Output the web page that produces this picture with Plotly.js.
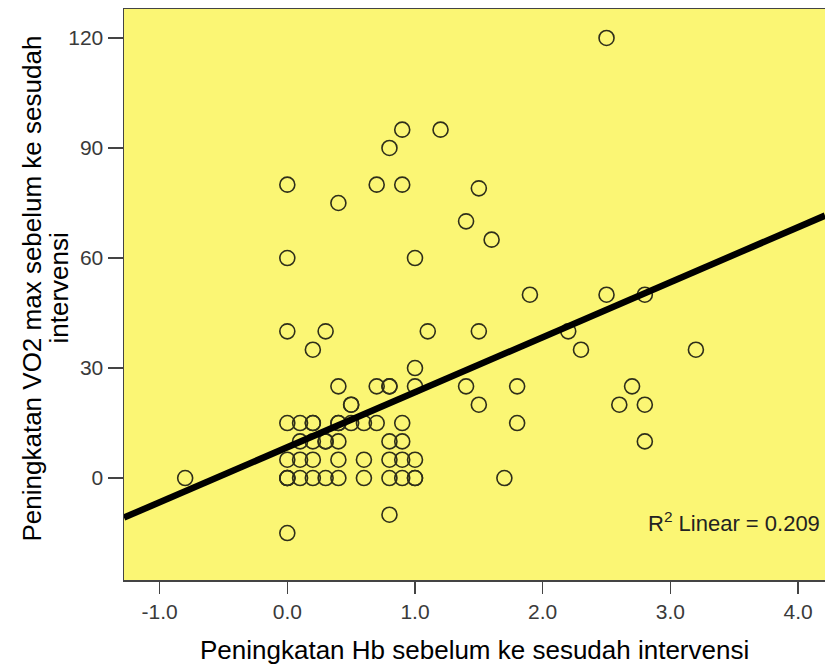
<!DOCTYPE html>
<html>
<head>
<meta charset="utf-8">
<script src="https://cdn.plot.ly/plotly-3.0.1.min.js"></script>
<style>
  html, body { margin: 0; padding: 0; background: #ffffff; }
  #chart { width: 825px; height: 667px; }
</style>
</head>
<body>
<div id="chart"></div>
<script>
// Peningkatan Hb (x) vs Peningkatan VO2 max (y)
const hbIncrease = [
  2.5,
  0.9, 1.2,
  0.8,
  0.0, 0.7, 0.9,
  1.5,
  0.4,
  1.4,
  1.6,
  0.0, 1.0,
  1.9, 2.5, 2.8,
  0.0, 0.3, 1.1, 1.5, 2.2,
  0.2, 2.3, 3.2,
  1.0,
  0.4, 0.7, 0.8, 0.8, 1.0, 1.4, 1.8, 2.7,
  0.5, 0.5, 1.5, 2.6, 2.8,
  0.0, 0.1, 0.2, 0.2, 0.4, 0.4, 0.5, 0.6, 0.7, 0.9, 1.8,
  0.1, 0.2, 0.3, 0.3, 0.4, 0.8, 0.9, 2.8,
  0.0, 0.1, 0.2, 0.4, 0.6, 0.8, 0.9, 1.0,
  -0.8, 0.0, 0.0, 0.0, 0.1, 0.2, 0.3, 0.4, 0.6, 0.8, 0.9, 1.0, 1.0, 1.7,
  0.8,
  0.0
];
const vo2Increase = [
  120,
  95, 95,
  90,
  80, 80, 80,
  79,
  75,
  70,
  65,
  60, 60,
  50, 50, 50,
  40, 40, 40, 40, 40,
  35, 35, 35,
  30,
  25, 25, 25, 25, 25, 25, 25, 25,
  20, 20, 20, 20, 20,
  15, 15, 15, 15, 15, 15, 15, 15, 15, 15, 15,
  10, 10, 10, 10, 10, 10, 10, 10,
  5, 5, 5, 5, 5, 5, 5, 5,
  0, 0, 0, 0, 0, 0, 0, 0, 0, 0, 0, 0, 0, 0,
  -10,
  -15
];

// Linear fit shown in the reference (R² Linear = 0.209)
const fitIntercept = 8.4;
const fitSlope = 15.0;
const rSquared = 0.209;

const xTickValues = [-1, 0, 1, 2, 3, 4];
const xTickLabels = ['-1.0', '0.0', '1.0', '2.0', '3.0', '4.0'];
const yTickValues = [0, 30, 60, 90, 120];
const yTickLabels = ['0', '30', '60', '90', '120'];

const xTitle = 'Peningkatan Hb sebelum ke sesudah intervensi';
const yTitleLine1 = 'Peningkatan VO2 max sebelum ke sesudah';
const yTitleLine2 = 'intervensi';

const xRange = [-1.279, 4.211];
const yRange = [-27.8, 127.9];

const fitX = xRange.slice();
const fitY = fitX.map(v => fitIntercept + fitSlope * v);

const FONT = 'Liberation Sans, Arial, sans-serif';

const traces = [
  {
    type: 'scatter',
    mode: 'markers',
    x: hbIncrease,
    y: vo2Increase,
    marker: {
      symbol: 'circle-open',
      size: 15,
      color: '#2e2e1a',
      line: { width: 1.6, color: '#2e2e1a' }
    },
    hoverinfo: 'x+y',
    showlegend: false,
    cliponaxis: true
  },
  {
    type: 'scatter',
    mode: 'lines',
    x: fitX,
    y: fitY,
    line: { color: '#000000', width: 6.5 },
    hoverinfo: 'skip',
    showlegend: false
  }
];

const layout = {
  width: 825,
  height: 667,
  margin: { l: 124, r: 0, t: 9, b: 87, pad: 0 },
  paper_bgcolor: '#ffffff',
  plot_bgcolor: '#FBF674',
  font: { family: FONT, color: '#222222' },
  showlegend: false,
  xaxis: {
    range: xRange,
    tickmode: 'array',
    tickvals: xTickValues,
    ticktext: xTickLabels,
    ticks: 'outside',
    ticklen: 12,
    tickwidth: 1.5,
    tickcolor: '#444444',
    tickfont: { family: FONT, size: 21, color: '#3a3a3a' },
    showgrid: false,
    zeroline: false,
    showline: true,
    linecolor: '#444444',
    linewidth: 1.5,
    mirror: true,
    fixedrange: true
  },
  yaxis: {
    range: yRange,
    tickmode: 'array',
    tickvals: yTickValues,
    ticktext: yTickLabels,
    ticks: 'outside',
    ticklen: 15,
    tickwidth: 1.5,
    tickcolor: '#444444',
    tickfont: { family: FONT, size: 21, color: '#3a3a3a' },
    showgrid: false,
    zeroline: false,
    showline: true,
    linecolor: '#444444',
    linewidth: 1.5,
    mirror: true,
    fixedrange: true
  },
  annotations: [
    {
      text: xTitle,
      xref: 'paper', yref: 'paper',
      x: 0.5, y: 0,
      xanchor: 'center', yanchor: 'middle',
      yshift: -70,
      showarrow: false,
      font: { family: FONT, size: 26, color: '#000000' }
    },
    {
      text: yTitleLine1,
      xref: 'paper', yref: 'paper',
      x: 0, y: 0.5,
      xanchor: 'center', yanchor: 'middle',
      xshift: -93, yshift: 6,
      textangle: -90,
      showarrow: false,
      font: { family: FONT, size: 26, color: '#000000' }
    },
    {
      text: yTitleLine2,
      xref: 'paper', yref: 'paper',
      x: 0, y: 0.5,
      xanchor: 'center', yanchor: 'middle',
      xshift: -66, yshift: 6,
      textangle: -90,
      showarrow: false,
      font: { family: FONT, size: 26, color: '#000000' }
    },
    {
      text: 'R<sup>2</sup> Linear = ' + rSquared.toFixed(3),
      xref: 'paper', yref: 'paper',
      x: 1, y: 0.1016,
      xanchor: 'right', yanchor: 'middle',
      xshift: -3,
      showarrow: false,
      font: { family: FONT, size: 22, color: '#222222' }
    }
  ]
};

Plotly.newPlot('chart', traces, layout, { displayModeBar: false, staticPlot: true });
</script>
</body>
</html>
